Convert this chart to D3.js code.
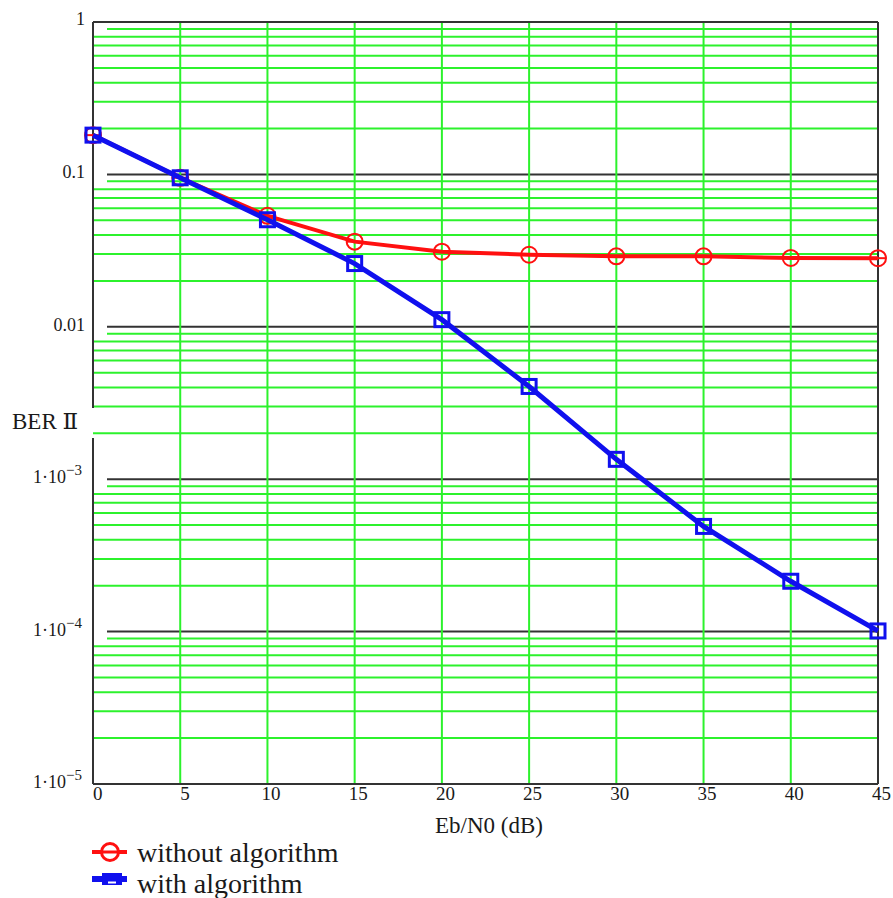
<!DOCTYPE html>
<html>
<head>
<meta charset="utf-8">
<script src="https://cdn.jsdelivr.net/npm/d3@7"></script>
<style>
  html, body { margin: 0; padding: 0; background: #fff; }
  svg { display: block; font-family: "Liberation Serif", "DejaVu Serif", serif; }
</style>
</head>
<body>
<svg id="chart" width="893" height="898"></svg>
<script>
(function() {
  'use strict';

  // Data
  const ebN0 = [0, 5, 10, 15, 20, 25, 30, 35, 40, 45];
  const berWithout = [0.181, 0.095, 0.0535, 0.0362, 0.0311, 0.0297, 0.0290, 0.0290, 0.0283, 0.0282];
  const berWith = [0.181, 0.095, 0.0504, 0.0260, 0.01114, 0.00406, 0.00135, 0.00049, 0.000214, 0.000101];
  const xTicks = [0, 5, 10, 15, 20, 25, 30, 35, 40, 45];
  const yDecades = [1, 0.1, 0.01, 1e-3, 1e-4, 1e-5];
  const yLabels = [
    { base: '1', exp: null },
    { base: '0.1', exp: null },
    { base: '0.01', exp: null },
    { base: '1\u00b710', exp: '\u22123' },
    { base: '1\u00b710', exp: '\u22124' },
    { base: '1\u00b710', exp: '\u22125' }
  ];

  const left = 93, right = 878, top = 22, bottom = 784;
  const svg = d3.select('#chart');

  const x = d3.scaleLinear().domain([0, 45]).range([left, right]);
  const y = d3.scaleLog().domain([1e-5, 1]).range([bottom, top]);

  const green = '#2cf22c';
  const dark = '#333333';
  const ink = '#1a1a1a';
  const red = '#ff1010';
  const blue = '#1010ee';

  // horizontal grid: minor lines inside every decade
  const grid = svg.append('g');
  for (let e = -5; e < 0; e++) {
    for (let k = 1; k <= 9; k++) {
      if (k === 1 && e === -5) continue;
      const v = k * Math.pow(10, e);
      const startX = (k === 1 || k === 9) ? left + 14 : left;
      grid.append('line')
        .attr('x1', startX).attr('x2', right)
        .attr('y1', y(v)).attr('y2', y(v))
        .attr('stroke', k === 1 ? dark : green)
        .attr('stroke-width', 2);
    }
  }

  // vertical grid lines
  xTicks.slice(1, -1).forEach(t => {
    grid.append('line')
      .attr('x1', x(t)).attr('x2', x(t))
      .attr('y1', top).attr('y2', bottom)
      .attr('stroke', green)
      .attr('stroke-width', 2);
  });

  // frame (left side broken where the y title sits)
  const frame = svg.append('g').attr('stroke', dark).attr('stroke-width', 2).attr('fill', 'none');
  frame.append('line').attr('x1', left).attr('x2', right).attr('y1', top).attr('y2', top);
  frame.append('line').attr('x1', left).attr('x2', right).attr('y1', bottom).attr('y2', bottom);
  frame.append('line').attr('x1', right).attr('x2', right).attr('y1', top).attr('y2', bottom);
  frame.append('line').attr('x1', left).attr('x2', left).attr('y1', top).attr('y2', 408);
  frame.append('line').attr('x1', left).attr('x2', left).attr('y1', 438).attr('y2', bottom);

  // x tick labels
  svg.append('g').selectAll('text')
    .data(xTicks)
    .join('text')
    .attr('x', d => x(d) - (d < 10 ? 0 : 6))
    .attr('y', 800)
    .attr('font-size', 19)
    .attr('fill', ink)
    .text(d => d);

  // y tick labels
  const yl = svg.append('g');
  yDecades.forEach((d, i) => {
    const lab = yLabels[i];
    const t = yl.append('text')
      .attr('x', lab.exp === null ? 85 : 82)
      .attr('y', y(d) + (i === 0 ? 3 : 4))
      .attr('text-anchor', 'end')
      .attr('font-size', 18)
      .attr('fill', ink);
    t.append('tspan').text(lab.base);
    if (lab.exp !== null) {
      t.append('tspan').attr('dy', -8).attr('font-size', 15).text(lab.exp);
    }
  });

  // axis titles
  svg.append('text')
    .attr('x', 12).attr('y', 429)
    .attr('font-size', 23)
    .attr('fill', ink)
    .text('BER \u2161');

  svg.append('text')
    .attr('x', 435).attr('y', 833)
    .attr('font-size', 23)
    .attr('fill', ink)
    .text('Eb/N0 (dB)');

  const line = d3.line()
    .x((d, i) => x(ebN0[i]))
    .y(d => y(d));

  // red series: without algorithm
  svg.append('path')
    .datum(berWithout)
    .attr('d', line)
    .attr('fill', 'none')
    .attr('stroke', red)
    .attr('stroke-width', 4);
  svg.append('g').selectAll('circle')
    .data(berWithout)
    .join('circle')
    .attr('cx', (d, i) => x(ebN0[i]))
    .attr('cy', d => y(d))
    .attr('r', 8)
    .attr('fill', 'none')
    .attr('stroke', red)
    .attr('stroke-width', 2);
  svg.append('g').selectAll('line')
    .data(berWithout)
    .join('line')
    .attr('x1', (d, i) => x(ebN0[i]) - 8)
    .attr('x2', (d, i) => x(ebN0[i]) + 8)
    .attr('y1', d => y(d)).attr('y2', d => y(d))
    .attr('stroke', red)
    .attr('stroke-width', 2);

  // blue series: with algorithm
  svg.append('path')
    .datum(berWith)
    .attr('d', line)
    .attr('fill', 'none')
    .attr('stroke', blue)
    .attr('stroke-width', 5);
  svg.append('g').selectAll('rect')
    .data(berWith)
    .join('rect')
    .attr('x', (d, i) => x(ebN0[i]) - 7)
    .attr('y', d => y(d) - 7)
    .attr('width', 14).attr('height', 14)
    .attr('fill', 'none')
    .attr('stroke', blue)
    .attr('stroke-width', 3);

  // legend
  const leg = svg.append('g');
  leg.append('line').attr('x1', 92).attr('x2', 127).attr('y1', 852).attr('y2', 852)
    .attr('stroke', red).attr('stroke-width', 4);
  leg.append('circle').attr('cx', 110).attr('cy', 852).attr('r', 8.5)
    .attr('fill', '#fff').attr('stroke', red).attr('stroke-width', 3);
  leg.append('line').attr('x1', 101).attr('x2', 119).attr('y1', 852).attr('y2', 852)
    .attr('stroke', red).attr('stroke-width', 3);
  leg.append('text').attr('x', 137).attr('y', 862)
    .attr('font-size', 28).attr('fill', ink).text('without algorithm');

  leg.append('line').attr('x1', 92).attr('x2', 127).attr('y1', 879).attr('y2', 879)
    .attr('stroke', blue).attr('stroke-width', 6);
  leg.append('rect').attr('x', 102).attr('y', 873).attr('width', 20).attr('height', 12)
    .attr('fill', blue);
  leg.append('line').attr('x1', 108).attr('x2', 116).attr('y1', 882.5).attr('y2', 882.5)
    .attr('stroke', '#fff').attr('stroke-width', 2);
  leg.append('text').attr('x', 137).attr('y', 893)
    .attr('font-size', 28).attr('fill', ink).text('with algorithm');
})();
</script>
</body>
</html>
